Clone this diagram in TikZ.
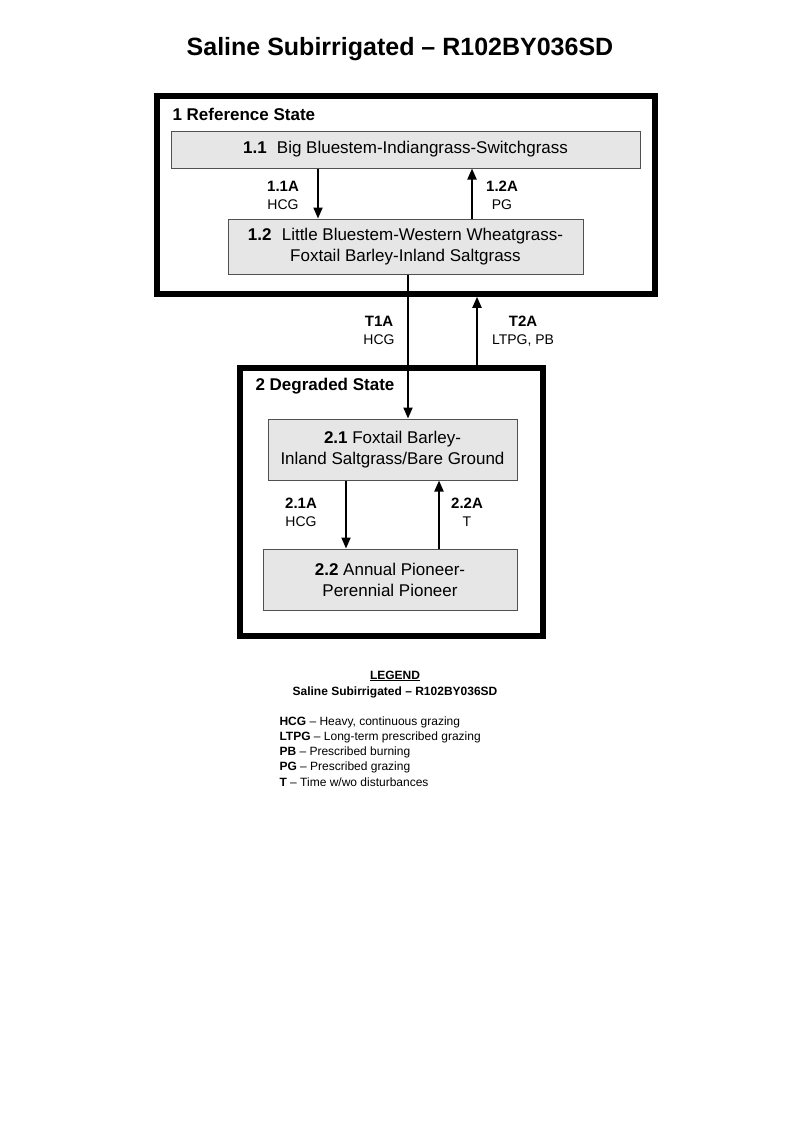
\documentclass[tikz,border=0pt]{standalone}
\usepackage{fontspec}
\setmainfont{Liberation Sans}
\usetikzlibrary{arrows.meta,positioning,calc}
\definecolor{boxfill}{RGB}{230,230,230}
\definecolor{boxline}{RGB}{80,80,80}
\newcommand{\tcode}[1]{{\fontsize{15}{17.5}\selectfont\bfseries #1}}
\tikzset{
  statebox/.style={draw=black,line width=5.5pt,minimum width=#1},
  phase/.style={draw=boxline,fill=boxfill,line width=1pt,align=center,font=\fontsize{17}{21}\selectfont},
  statename/.style={anchor=west,font=\fontsize{17}{20}\selectfont\bfseries},
  trans/.style={line width=2pt,-{Triangle[length=11pt,width=9pt]}},
  translabel/.style={align=center,anchor=north,inner sep=0pt,font=\fontsize{14}{17.5}\selectfont},
  legendline/.style={anchor=west,font=\fontsize{12}{14}\selectfont}
}
\begin{document}
\begin{tikzpicture}[x=1pt,y=-1pt]
\useasboundingbox (0,0) rectangle (800,1143);
\node[font=\fontsize{25}{30}\selectfont\bfseries] (title) at (400,49) {Saline Subirrigated -- R102BY036SD};
% reference state
\node[statebox=498pt,minimum height=198pt] (s1) at (406,195) {};
\node[statename] (s1name) at (169,114) {1 Reference State};
\node[phase,minimum width=469pt,minimum height=37pt] (p11) at (405.5,149.5) {\textbf{1.1}\hspace{0.6em}Big Bluestem-Indiangrass-Switchgrass};
\node[phase,minimum width=355pt,minimum height=55pt] (p12) at (405.5,246.5) {\textbf{1.2}\hspace{0.6em}Little Bluestem-Western Wheatgrass-\\Foxtail Barley-Inland Saltgrass};
% degraded state
\node[statebox=303pt,minimum height=268pt] (s2) at (391.5,502) {};
\node[statename] (s2name) at (252,386) {2 Degraded State};
\node[phase,minimum width=249pt,minimum height=61pt] (p21) at (392.5,449.5) {\textbf{2.1} Foxtail Barley-\\Inland Saltgrass/Bare Ground};
\node[phase,minimum width=254pt,minimum height=61pt] (p22) at (390,579.5) {\textbf{2.2} Annual Pioneer-\\Perennial Pioneer};
% transitions
\coordinate (x11) at (318,0);
\coordinate (x12) at (472,0);
\coordinate (xt1) at (408,0);
\coordinate (xt2) at (477,0);
\coordinate (x21) at (346,0);
\coordinate (x22) at (439,0);
\draw[trans] (p11.south -| x11) -- (p12.north -| x11);
\draw[trans] (p12.north -| x12) -- (p11.south -| x12);
\draw[trans] (p12.south -| xt1) -- (p21.north -| xt1);
\draw[trans] (s2.north -| xt2) -- (s1.south -| xt2);
\draw[trans] (p21.south -| x21) -- (p22.north -| x21);
\draw[trans] (p22.north -| x22) -- (p21.south -| x22);
\node[translabel] (l11) at (283,181) {\tcode{1.1A}\\HCG};
\node[translabel] (l12) at (502,181) {\tcode{1.2A}\\PG};
\node[translabel] (lt1) at (379,316) {\tcode{T1A}\\HCG};
\node[translabel] (lt2) at (523,316) {\tcode{T2A}\\LTPG, PB};
\node[translabel] (l21) at (301,498) {\tcode{2.1A}\\HCG};
\node[translabel] (l22) at (467,498) {\tcode{2.2A}\\T};
% legend
\node[font=\fontsize{12}{14}\selectfont\bfseries] (leg) at (395,676) {\underline{LEGEND}};
\node[font=\fontsize{12}{14}\selectfont\bfseries] (legsub) at (395,692) {Saline Subirrigated -- R102BY036SD};
\node[legendline] (leg1) at (276,722) {\textbf{HCG} -- Heavy, continuous grazing};
\node[legendline] (leg2) at (276,737) {\textbf{LTPG} -- Long-term prescribed grazing};
\node[legendline] (leg3) at (276,752) {\textbf{PB} -- Prescribed burning};
\node[legendline] (leg4) at (276,767) {\textbf{PG} -- Prescribed grazing};
\node[legendline] (leg5) at (276,782) {\textbf{T} -- Time w/wo disturbances};
\end{tikzpicture}
\end{document}
